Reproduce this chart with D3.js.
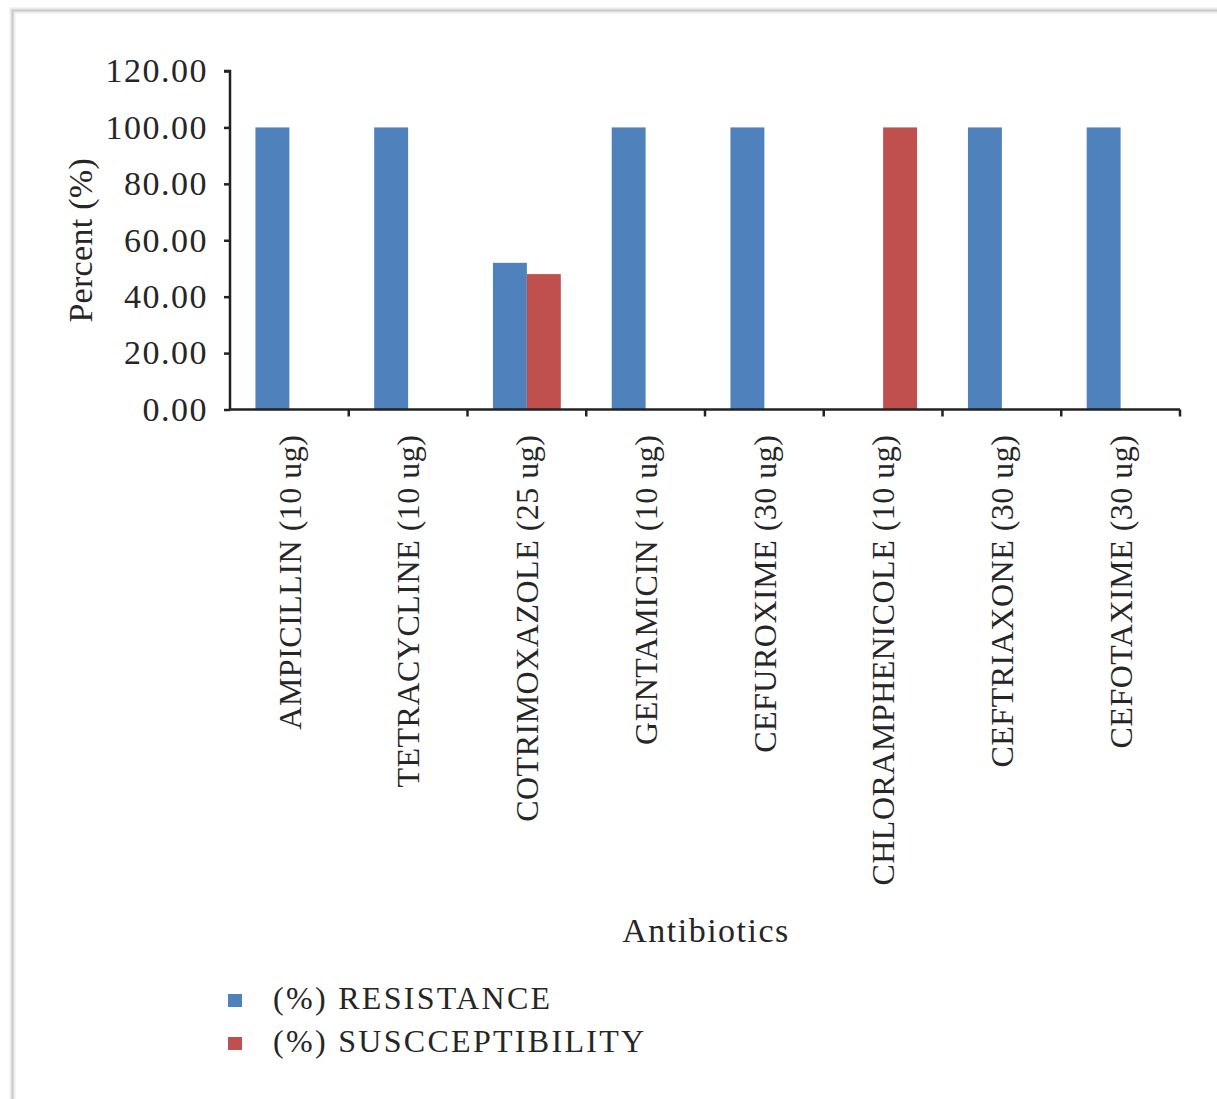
<!DOCTYPE html>
<html>
<head>
<meta charset="utf-8">
<script src="https://cdn.jsdelivr.net/npm/d3@7"></script>
<style>
  html, body { margin: 0; padding: 0; background: #fff; }
  svg { display: block; }
  text { font-family: "Liberation Serif", "DejaVu Serif", serif; fill: #262626; }
</style>
</head>
<body>
<svg id="chart" width="1217" height="1099"></svg>
<script>
// Antibiotic susceptibility profile
const antibiotics = [
  "AMPICILLIN (10 ug)",
  "TETRACYCLINE (10 ug)",
  "COTRIMOXAZOLE (25 ug)",
  "GENTAMICIN (10 ug)",
  "CEFUROXIME (30 ug)",
  "CHLORAMPHENICOLE (10 ug)",
  "CEFTRIAXONE (30 ug)",
  "CEFOTAXIME (30 ug)"
];
const seriesNames = ["(%) RESISTANCE", "(%) SUSCCEPTIBILITY"];
const resistance     = [100, 100, 52, 100, 100, 0, 100, 100];
const susceptibility = [0, 0, 48, 0, 0, 100, 0, 0];
const yTicks = [0, 20, 40, 60, 80, 100, 120];
const colors = ["#4F81BD", "#C0504D"];

const svg = d3.select("#chart");

// outer frame with a soft edge
const frame = svg.append("g");
frame.append("path").attr("d", "M12.5,1099 V10.5 H1217")
  .attr("fill", "none").attr("stroke", "#ececec").attr("stroke-width", 6);
frame.append("path").attr("d", "M12.5,1099 V10.5 H1217")
  .attr("fill", "none").attr("stroke", "#c9c9c9").attr("stroke-width", 2);

const plot = { left: 230, right: 1180, top: 71, bottom: 409.5 };

const x = d3.scaleBand().domain(antibiotics).range([plot.left, plot.right]);
const inner = d3.scaleBand().domain(seriesNames)
  .range([0, x.bandwidth()]).paddingOuter(0.75).paddingInner(0);
const y = d3.scaleLinear().domain([0, 120]).range([plot.bottom, plot.top]);

const rows = antibiotics.map((a, i) => ({ a, vals: [resistance[i], susceptibility[i]] }));

// bars
const groups = svg.append("g").selectAll("g").data(rows).join("g")
  .attr("transform", d => `translate(${x(d.a)},0)`);
groups.selectAll("rect")
  .data(d => d.vals.map((v, k) => ({ v, k })).filter(e => e.v > 0))
  .join("rect")
  .attr("x", e => inner(seriesNames[e.k]))
  .attr("width", inner.bandwidth())
  .attr("y", e => y(e.v))
  .attr("height", e => y(0) - y(e.v))
  .attr("fill", e => colors[e.k]);

// y axis
const yAxis = svg.append("g")
  .attr("transform", `translate(${plot.left},0)`)
  .call(d3.axisLeft(y).tickValues(yTicks).tickFormat(d3.format(".2f"))
    .tickSize(6).tickPadding(16));
yAxis.select(".domain").attr("stroke", "#222").attr("stroke-width", 2.5)
  .attr("d", `M-6,${plot.top}H0V${plot.bottom}`);
yAxis.selectAll(".tick line").attr("stroke", "#222").attr("stroke-width", 2.5);
yAxis.selectAll(".tick text")
  .style("font-family", '"Liberation Serif", serif')
  .attr("font-size", 34).attr("fill", "#262626").attr("letter-spacing", 1.5);

// x axis: baseline, boundary ticks and rotated category labels
const xAxis = svg.append("g");
xAxis.append("line")
  .attr("x1", plot.left).attr("x2", plot.right)
  .attr("y1", y(0)).attr("y2", y(0))
  .attr("stroke", "#222").attr("stroke-width", 2.5);
const bounds = antibiotics.map(a => x(a)).concat([x.range()[1]]).slice(1);
xAxis.selectAll("line.tick").data(bounds).join("line")
  .attr("class", "tick")
  .attr("x1", d => d).attr("x2", d => d)
  .attr("y1", y(0)).attr("y2", y(0) + 7)
  .attr("stroke", "#222").attr("stroke-width", 2.5);
xAxis.selectAll("text").data(antibiotics).join("text")
  .attr("transform", d => `translate(${x(d) + x.bandwidth() / 2},${y(0) + 25}) rotate(-90)`)
  .attr("text-anchor", "end")
  .attr("dy", "0.35em")
  .attr("font-size", 32)
  .attr("letter-spacing", 0.5)
  .text(d => d);

// axis titles
svg.append("text")
  .attr("transform", `translate(92,${(plot.top + plot.bottom) / 2}) rotate(-90)`)
  .attr("text-anchor", "middle")
  .attr("font-size", 34)
  .attr("letter-spacing", 0.3)
  .text("Percent (%)");
svg.append("text")
  .attr("x", 706).attr("y", 942)
  .attr("text-anchor", "middle")
  .attr("font-size", 34)
  .attr("letter-spacing", 1.5)
  .text("Antibiotics");

// legend
const legend = svg.append("g").selectAll("g").data(seriesNames).join("g")
  .attr("transform", (d, i) => `translate(228,${994 + i * 43})`);
legend.append("rect").attr("width", 14).attr("height", 13)
  .attr("fill", (d, i) => colors[i]);
legend.append("text").attr("x", 45).attr("y", 15)
  .attr("font-size", 32)
  .attr("letter-spacing", 2.3)
  .text(d => d);
</script>
</body>
</html>
